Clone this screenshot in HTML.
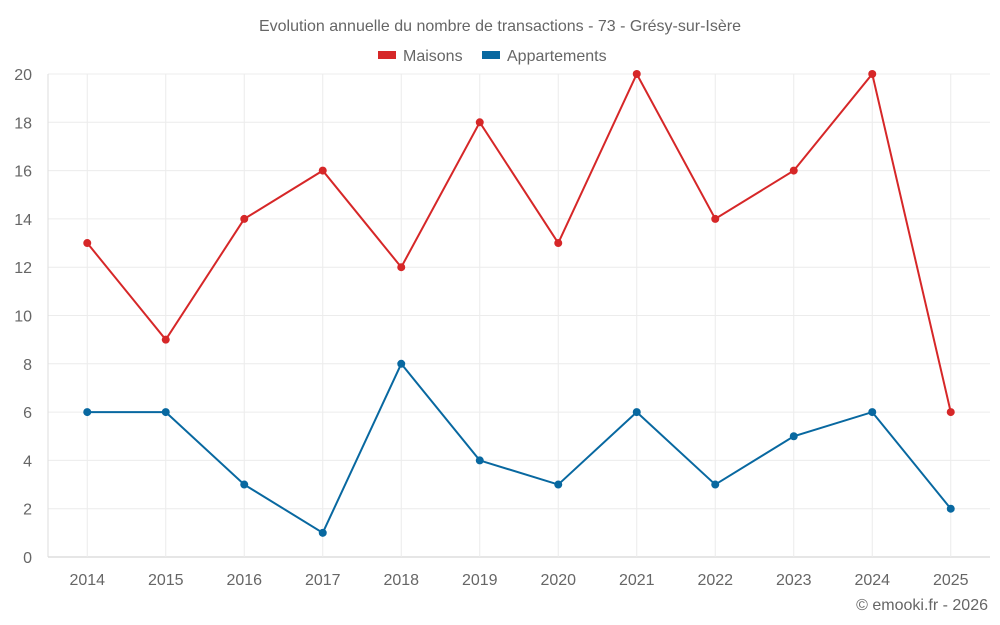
<!DOCTYPE html>
<html><head><meta charset="utf-8"><style>
body{margin:0;background:#fff;}
svg{display:block;font-family:"Liberation Sans",sans-serif;}
</style></head><body>
<svg id="chart" width="1000" height="625">
<text x="500" y="31" text-anchor="middle" font-size="16" fill="#666">Evolution annuelle du nombre de transactions - 73 - Grésy-sur-Isère</text>
<g><rect x="378" y="51" width="18" height="8" fill="#d62728"/><text x="403" y="61" font-size="16" fill="#666">Maisons</text></g>
<g><rect x="482" y="51" width="18" height="8" fill="#0868a0"/><text x="507" y="61" font-size="16" fill="#666">Appartements</text></g>
<g id="grid"></g><g id="axes"></g><g id="series"></g>
<text x="988" y="610" text-anchor="end" font-size="16" fill="#666">© emooki.fr - 2026</text>
</svg>
<script>
const categories=["2014","2015","2016","2017","2018","2019","2020","2021","2022","2023","2024","2025"];
const maisons=[13,9,14,16,12,18,13,20,14,16,20,6];
const appartements=[6,6,3,1,8,4,3,6,3,5,6,2];
const yTicks=[0,2,4,6,8,10,12,14,16,18,20];
const NS="http://www.w3.org/2000/svg";
const L=48,R=990,T=74,B=557,yMax=20;
const band=(R-L)/categories.length;
const xs=i=>L+band*(i+0.5);
const ys=v=>B-(v/yMax)*(B-T);
function mk(tag,attrs,parent){const e=document.createElementNS(NS,tag);for(const k in attrs)e.setAttribute(k,attrs[k]);parent.appendChild(e);return e;}
const grid=document.getElementById('grid'),axes=document.getElementById('axes'),ser=document.getElementById('series');
yTicks.forEach(v=>{
 const l=mk('line',{x1:L,x2:R,y1:ys(v),y2:ys(v),stroke:v===0?'#ccc':'#ececec'},grid);
 
 
 const t=mk('text',{x:L-16,y:ys(v)+6,'text-anchor':'end','font-size':16,fill:'#666'},axes);
 t.textContent=v;
 
 
});
categories.forEach((c,i)=>{
 const l=mk('line',{x1:xs(i),x2:xs(i),y1:T,y2:B,stroke:'#ececec'},grid);
 
 
 const t=mk('text',{x:xs(i),y:585,'text-anchor':'middle','font-size':16,fill:'#666'},axes);
 t.textContent=c;
 
 
});
const la=mk('line',{x1:L,x2:L,y1:T,y2:B,stroke:'#ddd'},grid);


function series(vals,color,name){
 const p=mk('polyline',{points:vals.map((v,i)=>xs(i)+','+ys(v)).join(' '),fill:'none',stroke:color,'stroke-width':2},ser);
 
 
 vals.forEach((v,i)=>{
  const c=mk('circle',{cx:xs(i),cy:ys(v),r:4,fill:color},ser);
  
  
 });
}
series(maisons,'#d62728','maisons');
series(appartements,'#0868a0','appartements');
</script>
</body></html>
